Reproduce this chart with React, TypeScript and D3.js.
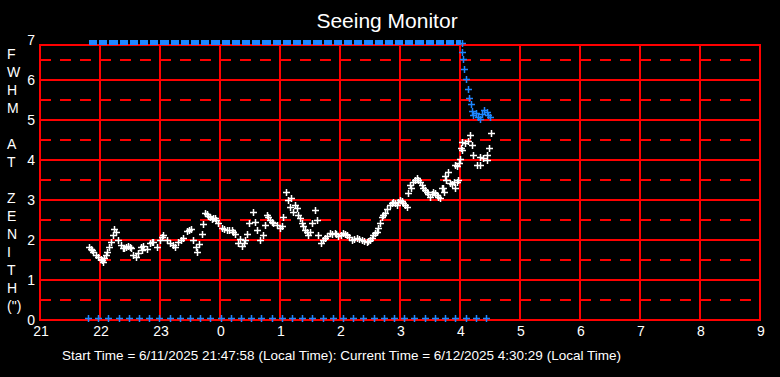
import React from "react";
import * as d3 from "d3";

const WIDTH = 780;
const HEIGHT = 377;

const TITLE = "Seeing Monitor";
const FOOTER =
  "Start Time = 6/11/2025 21:47:58 (Local Time): Current Time = 6/12/2025 4:30:29 (Local Time)";
const Y_TITLE_CHARS = ["F", "W", "H", "M", "", "A", "T", "", "Z", "E", "N", "I", "T", "H", "(\")"];
const X_TICKS = [21, 22, 23, 24, 25, 26, 27, 28, 29, 30, 31, 32, 33];
const Y_TICKS = [0, 1, 2, 3, 4, 5, 6, 7];
const Y_SOLID = [1, 2, 3, 4, 5, 6];
const Y_DASHED = [0.5, 1.5, 2.5, 3.5, 4.5, 5.5, 6.5];

const SATURATED_FWHM = 6.94;
const ZERO_FLAG_FWHM = 0.05;
const SATURATED_UNTIL = 28.01;

// blue readings flagged at zero (hours since midnight of start day)
const zeroFlagHours = [
  21.8, 21.97, 22.14, 22.31, 22.48, 22.65, 22.82, 22.99, 23.16, 23.33, 23.5, 23.67, 23.84, 24.01,
  24.18, 24.35, 24.52, 24.69, 24.86, 25.03, 25.2, 25.37, 25.54, 25.71, 25.88, 26.05, 26.22, 26.39,
  26.56, 26.73, 26.9, 27.07, 27.24, 27.41, 27.58, 27.75, 27.92, 28.1, 28.27, 28.43,
];

// blue (uncorrected) FWHM once below saturation
const blueHours = [
  28.028, 28.038, 28.055, 28.072, 28.1, 28.128, 28.155, 28.178, 28.195, 28.222, 28.267, 28.305,
  28.333, 28.372, 28.405, 28.445, 28.472, 28.5,
];
const blueFwhm = [
  6.92, 6.69, 6.52, 6.27, 6.03, 5.78, 5.54, 5.39, 5.23, 5.13, 5.17, 5.08, 5.03, 5.14, 5.25, 5.19,
  5.13, 5.08,
];

// white (zenith-corrected) FWHM
const whiteHours = [
  21.822, 21.862, 21.888, 21.933, 21.972, 22.012, 22.055, 22.095, 22.122, 22.155, 22.178, 22.212,
  22.233, 22.267, 22.305, 22.345, 22.388, 22.433, 22.472, 22.512, 22.555, 22.6, 22.638, 22.678,
  22.722, 22.778, 22.833, 22.888, 22.945, 23.0, 23.055, 23.112, 23.167, 23.25, 23.305, 23.378,
  23.445, 23.512, 23.555, 23.6, 23.622, 23.655, 23.695, 23.712, 23.75, 23.805, 23.862, 23.917,
  23.972, 24.028, 24.112, 24.195, 24.25, 24.305, 24.362, 24.417, 24.455, 24.488, 24.545, 24.583,
  24.622, 24.667, 24.722, 24.75, 24.778, 24.833, 24.888, 24.945, 25.0, 25.055, 25.1, 25.138,
  25.167, 25.222, 25.25, 25.305, 25.362, 25.417, 25.472, 25.528, 25.583, 25.612, 25.638, 25.678,
  25.75, 25.833, 25.917, 25.972, 26.055, 26.112, 26.195, 26.278, 26.362, 26.445, 26.5, 26.555,
  26.612, 26.667, 26.695, 26.75, 26.833, 26.888, 26.945, 27.0, 27.055, 27.112, 27.138, 27.167,
  27.222, 27.278, 27.333, 27.388, 27.445, 27.5, 27.555, 27.612, 27.667, 27.695, 27.712, 27.75,
  27.767, 27.805, 27.833, 27.862, 27.9, 27.917, 27.917, 27.945, 27.955, 27.972, 27.988, 28.0,
  28.012, 28.028, 28.028, 28.083, 28.138, 28.167, 28.195, 28.222, 28.278, 28.333, 28.333, 28.388,
  28.445, 28.455, 28.488, 28.512,
  // extra readings filling the dense stretches
  21.845, 22.035, 22.075, 22.4, 22.5, 22.7, 22.86, 23.03, 23.21, 23.35, 23.48, 23.78, 23.83, 23.89,
  23.94, 24.07, 24.15, 24.22, 24.33, 24.4, 24.8, 24.86, 25.03, 25.19, 25.28, 25.33, 25.39, 25.45,
  25.5, 25.71, 25.79, 25.87, 25.94, 26.01, 26.08, 26.15, 26.24, 26.32, 26.4, 26.47, 26.53, 26.58,
  26.64, 26.72, 26.79, 26.86, 26.92, 26.97, 27.03, 27.08, 27.19, 27.25, 27.3, 27.36, 27.42,
  27.47, 27.53, 27.58, 27.64, 27.73,
];
const whiteFwhm = [
  1.82, 1.75, 1.71, 1.63, 1.57, 1.52, 1.46, 1.63, 1.71, 1.82, 1.96, 2.13,
  2.27, 2.21, 2.0, 1.88, 1.79, 1.82, 1.85, 1.79, 1.63, 1.57, 1.67, 1.82,
  1.85, 1.77, 1.92, 1.96, 1.83, 2.0, 2.13, 2.0, 1.92, 1.82, 1.96, 2.04,
  2.23, 2.27, 2.0, 1.82, 1.71, 1.9, 2.15, 2.4, 2.67, 2.6, 2.52, 2.54,
  2.42, 2.29, 2.25, 2.25, 2.15, 1.92, 1.85, 2.0, 2.15, 2.42, 2.71, 2.46,
  2.25, 2.0, 2.13, 2.38, 2.63, 2.5, 2.42, 2.38, 2.29, 2.58, 3.21, 3.0,
  2.83, 2.71, 2.88, 2.63, 2.42, 2.25, 2.13, 2.42, 2.75, 2.5, 2.13, 1.92,
  2.04, 2.17, 2.18, 2.1, 2.17, 2.13, 2.0, 2.04, 2.0, 1.96, 2.0, 2.13,
  2.21, 2.42, 2.58, 2.67, 2.88, 2.96, 2.88, 3.0, 2.92, 2.83, 3.17, 3.38,
  3.46, 3.54, 3.46, 3.29, 3.21, 3.08, 3.21, 3.13, 3.04, 3.29, 3.29, 3.6,
  3.5, 3.71, 3.42, 3.4, 3.46, 3.29, 3.88, 3.46, 3.85, 3.5, 3.92, 4.02,
  4.29, 4.46, 4.25, 4.43, 4.48, 4.63, 4.38, 4.13, 3.88, 4.08, 3.88, 4.04,
  4.13, 4.0, 4.29, 4.67,
  1.78, 1.49, 1.55, 1.8, 1.83, 1.75, 1.94, 2.08, 1.88, 2.0, 2.25, 2.64, 2.58, 2.56,
  2.5, 2.27, 2.25, 2.2, 2.03, 1.93, 2.57, 2.45, 2.35, 3.05, 2.8, 2.55, 2.35, 2.2,
  2.2, 2.0, 2.1, 2.16, 2.15, 2.12, 2.15, 2.08, 2.02, 2.02, 1.98, 1.98, 2.06, 2.17,
  2.3, 2.62, 2.78, 2.92, 2.92, 2.95, 2.97, 2.87, 3.3, 3.5, 3.5, 3.38, 3.25,
  3.14, 3.15, 3.17, 3.08, 3.2,
];

const FONT = "'Liberation Sans', Arial, Helvetica, sans-serif";
const RED = "#ff0000";
const BLUE = "#1e86ff";

export default function App() {
  const x = d3.scaleLinear().domain([21, 33]).range([40, 760]);
  const y = d3.scaleLinear().domain([0, 7]).range([320, 40]);
  const plotTop = 45;
  const plotBottom = y(0);
  const plotLeft = x(21);
  const plotRight = x(33);

  const r = (v: number) => Math.round(v);
  const plus = (cx: number, cy: number, arm: number) => {
    const px = Math.round(cx);
    const py = Math.round(cy);
    return `M${px - arm},${py + 0.5}H${px + arm + 1}M${px + 0.5},${py - arm}V${py + arm + 1}`;
  };

  const whitePath = whiteHours.map((h, i) => plus(x(h), y(whiteFwhm[i]), 3)).join("");
  const bluePath = blueHours.map((h, i) => plus(x(h), y(blueFwhm[i]), 3)).join("");
  const zeroPath = zeroFlagHours.map((h) => plus(x(h), y(ZERO_FLAG_FWHM), 3)).join("");

  const satBlocks = zeroFlagHours
    .filter((h) => h < SATURATED_UNTIL)
    .map((h, i, arr) => {
      const next = i + 1 < arr.length ? arr[i + 1] : SATURATED_UNTIL + 0.017;
      const x0 = Math.round(x(h)) + 1;
      const x1 = Math.min(Math.round(x(next)) - 1, Math.round(x(SATURATED_UNTIL)));
      return { x0, x1 };
    });
  const satY = Math.round(y(SATURATED_FWHM));

  return (
    <svg
      width={WIDTH}
      height={HEIGHT}
      style={{ position: "absolute", left: 0, top: 0, background: "#000", display: "block" }}
      fontFamily={FONT}
    >
      <rect x={0} y={0} width={WIDTH} height={HEIGHT} fill="#000" />
      <text x={387} y={28} fill="#fff" fontSize={21} textAnchor="middle">
        {TITLE}
      </text>

      {Y_DASHED.map((v) => (
        <line
          key={"d" + v}
          x1={plotLeft}
          x2={plotRight}
          y1={r(y(v))}
          y2={r(y(v))}
          stroke={RED}
          strokeWidth={2}
          strokeDasharray="11 9"
        />
      ))}
      {Y_SOLID.map((v) => (
        <line key={"h" + v} x1={plotLeft} x2={plotRight} y1={r(y(v))} y2={r(y(v))} stroke={RED} strokeWidth={2} />
      ))}
      {X_TICKS.map((h) => (
        <line key={"v" + h} x1={r(x(h))} x2={r(x(h))} y1={plotTop - 1} y2={plotBottom + 1} stroke={RED} strokeWidth={2} />
      ))}
      <line x1={plotLeft - 1} x2={plotRight + 1} y1={plotTop} y2={plotTop} stroke={RED} strokeWidth={2} />
      <line x1={plotLeft - 1} x2={plotRight + 1} y1={plotBottom} y2={plotBottom} stroke={RED} strokeWidth={2} />

      {Y_TICKS.map((v) => (
        <text key={"yt" + v} x={35} y={y(v) + 5} fill="#fff" fontSize={14} textAnchor="end">
          {v}
        </text>
      ))}
      {X_TICKS.map((h) => (
        <text key={"xt" + h} x={x(h) + 1} y={336} fill="#fff" fontSize={14} textAnchor="middle">
          {h % 24}
        </text>
      ))}
      {Y_TITLE_CHARS.map((ch, i) => (
        <text key={"yl" + i} x={7} y={59 + 18 * i} fill="#fff" fontSize={14}>
          {ch}
        </text>
      ))}

      {satBlocks.map((b, i) => (
        <rect key={"s" + i} x={b.x0} y={satY - 2} width={Math.max(0, b.x1 - b.x0)} height={5} fill={BLUE} />
      ))}
      <path d={zeroPath} stroke={BLUE} strokeWidth={1.5} fill="none" />
      <path d={bluePath} stroke={BLUE} strokeWidth={1.5} fill="none" />
      <path d={whitePath} stroke="#fff" strokeWidth={1.5} fill="none" />

      <text x={62} y={360} fill="#fff" fontSize={13.5} textLength={559} lengthAdjust="spacing">
        {FOOTER}
      </text>
    </svg>
  );
}
